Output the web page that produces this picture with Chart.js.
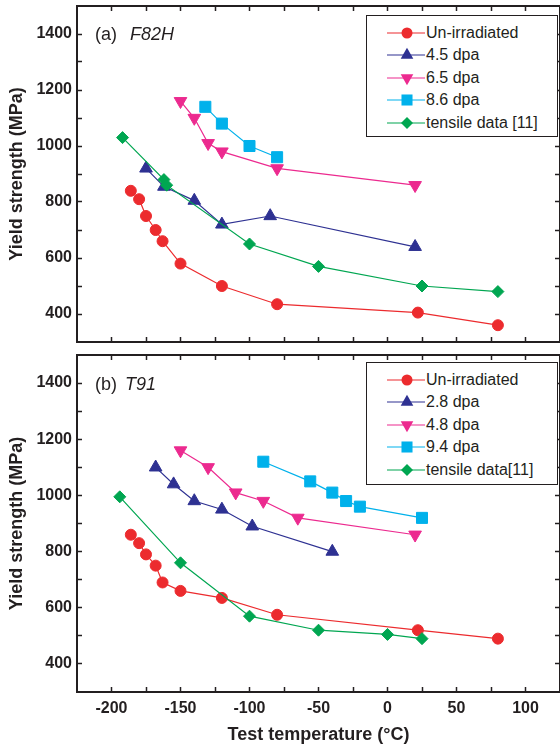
<!DOCTYPE html>
<html>
<head>
<meta charset="utf-8">
<script src="https://cdn.jsdelivr.net/npm/chart.js@4/dist/chart.umd.min.js"></script>
<style>
html,body{margin:0;padding:0;background:#fff;overflow:hidden;width:560px;height:749px;}
#wrap{position:relative;width:560px;height:749px;overflow:hidden;font-family:"Liberation Sans",Arial,sans-serif;color:#231F20;}
canvas{position:absolute;left:0;}
.plabel{position:absolute;font-size:18px;line-height:22px;white-space:nowrap;}
.plabel i{font-style:italic;}
.legend{position:absolute;border:1.5px solid #231F20;background:#fff;box-sizing:border-box;}
.legend .row{position:absolute;left:0;height:22px;width:100%;}
.legend .row svg{position:absolute;left:12px;top:0;}
.legend .row span{position:absolute;left:59px;top:0;line-height:22px;font-size:16px;white-space:nowrap;}
</style>
</head>
<body>
<div id="wrap">
  <canvas id="cA" width="562" height="346" style="top:0px"></canvas>
  <canvas id="cB" width="562" height="403" style="top:346px"></canvas>
  <div class="plabel" style="left:95px;top:23px">(a)<i style="margin-left:13px">F82H</i></div>
  <div class="plabel" style="left:95px;top:373px">(b)<i style="margin-left:8px">T91</i></div>
  <div class="legend" id="legA" style="left:366px;top:15px;width:192px;height:122px"></div>
  <div class="legend" id="legB" style="left:366px;top:362px;width:192px;height:123px"></div>
</div>
<script>
// ---- axis ticks ----
const X_TICK_LABELS = [-200, -150, -100, -50, 0, 50, 100];
const Y_TICK_LABELS = [400, 600, 800, 1000, 1200, 1400];
const X_MIN = -225, X_MAX = 125, Y_MIN = 300, Y_MAX = 1500;
const X_MINOR_STEP = 25, Y_MINOR_STEP = 100;

// ---- (a) F82H ----
const F82H_NAMES = ['Un-irradiated', '4.5 dpa', '6.5 dpa', '8.6 dpa', 'tensile data [11]'];
const F82H_UNIRR_T  = [-186, -180, -175, -168, -163, -150, -120, -80, 22, 80];
const F82H_UNIRR_YS = [840, 810, 750, 700, 660, 580, 500, 435, 405, 360];
const F82H_D45_T  = [-175, -162, -140, -120, -85, 20];
const F82H_D45_YS = [920, 855, 805, 720, 750, 640];
const F82H_D65_T  = [-150, -140, -130, -120, -80, 20];
const F82H_D65_YS = [1160, 1100, 1010, 980, 920, 860];
const F82H_D86_T  = [-132, -120, -100, -80];
const F82H_D86_YS = [1140, 1080, 1000, 960];
const F82H_TENS_T  = [-192, -162, -160, -100, -50, 25, 80];
const F82H_TENS_YS = [1030, 880, 860, 650, 570, 500, 480];

// ---- (b) T91 ----
const T91_NAMES = ['Un-irradiated', '2.8 dpa', '4.8 dpa', '9.4 dpa', 'tensile data[11]'];
const T91_UNIRR_T  = [-186, -180, -175, -168, -163, -150, -120, -80, 22, 80];
const T91_UNIRR_YS = [860, 830, 790, 750, 690, 660, 635, 575, 520, 490];
const T91_D28_T  = [-168, -155, -140, -120, -98, -40];
const T91_D28_YS = [1100, 1040, 980, 950, 890, 800];
const T91_D48_T  = [-150, -130, -110, -90, -65, 20];
const T91_D48_YS = [1160, 1100, 1010, 980, 920, 860];
const T91_D94_T  = [-90, -56, -40, -30, -20, 25];
const T91_D94_YS = [1120, 1050, 1010, 980, 960, 920];
const T91_TENS_T  = [-194, -150, -100, -50, 0, 25];
const T91_TENS_YS = [995, 760, 570, 520, 505, 490];

// ---- styles ----
const COLORS = ['#EC2B2E', '#2E3192', '#EC2A8F', '#00B1EB', '#00A651'];
const STYLES = ['circle', 'triangle', 'triangleDown', 'rect', 'rectRot'];
const RADII  = [5.5, 7.3, 7.3, 7.8, 6];
const TEXT = '#231F20';

function pts(t, ys) { return t.map((v, i) => ({x: v, y: ys[i]})); }

function makeDatasets(names, series) {
  return series.map((s, i) => ({
    label: names[i],
    data: pts(s[0], s[1]),
    showLine: true,
    borderColor: COLORS[i],
    backgroundColor: COLORS[i],
    borderWidth: 1.2,
    pointStyle: STYLES[i] === 'triangleDown' ? 'triangle' : STYLES[i],
    pointRotation: STYLES[i] === 'triangleDown' ? 180 : 0,
    pointRadius: RADII[i],
    pointHoverRadius: RADII[i],
    pointBorderWidth: 1,
    order: i === 4 ? -1 : i
  }));
}

// all tick positions (major labelled + minor) between the first and last labels
function tickRange(labels, step) {
  const out = [];
  for (let v = labels[0]; v <= labels[labels.length - 1]; v += step) out.push({value: v});
  return out;
}
const xTicks = s => { s.ticks = tickRange(X_TICK_LABELS, X_MINOR_STEP); };
const yTicks = s => { s.ticks = tickRange(Y_TICK_LABELS, Y_MINOR_STEP); };

function zeroPad(s) { s.paddingTop = 0; s.paddingBottom = 0; s.paddingLeft = 0; s.paddingRight = 0; }

function makeChart(id, datasets, topH, bottomH, showX) {
  const border = {display: true, color: TEXT, width: 2};
  const grid = {display: true, drawOnChartArea: false, drawTicks: true, tickLength: -5,
                tickColor: TEXT, tickWidth: 1.5};
  const fontTick = {family: '"Liberation Sans", Arial, sans-serif', size: 16, weight: 'bold'};
  const fontTitle = {family: '"Liberation Sans", Arial, sans-serif', size: 18, weight: 'bold'};
  return new Chart(document.getElementById(id), {
    type: 'scatter',
    data: {datasets},
    options: {
      responsive: false,
      devicePixelRatio: 1,
      animation: false,
      layout: {padding: 0, autoPadding: false},
      plugins: {legend: {display: false}, tooltip: {enabled: false}},
      scales: {
        x: {
          type: 'linear', position: 'bottom', min: X_MIN, max: X_MAX,
          grid, border, afterBuildTicks: xTicks,
          ticks: {display: showX, color: TEXT, font: fontTick, padding: 12, maxRotation: 0, autoSkip: false,
                  callback: v => X_TICK_LABELS.indexOf(v) >= 0 ? String(v) : ''},
          title: {display: showX, text: 'Test temperature (°C)', color: TEXT, font: fontTitle, padding: {top: 0, bottom: 3}},
          afterFit: s => { s.height = bottomH; zeroPad(s); }
        },
        x2: {
          type: 'linear', position: 'top', min: X_MIN, max: X_MAX,
          grid, border, afterBuildTicks: xTicks,
          ticks: {display: false},
          afterFit: s => { s.height = topH; zeroPad(s); }
        },
        y: {
          type: 'linear', position: 'left', min: Y_MIN, max: Y_MAX,
          grid, border, afterBuildTicks: yTicks,
          ticks: {color: TEXT, font: fontTick, padding: 10, autoSkip: false,
                  callback: v => Y_TICK_LABELS.indexOf(v) >= 0 ? String(v) : ''},
          title: {display: true, text: 'Yield strength (MPa)', color: TEXT, font: fontTitle, padding: {top: 6, bottom: 0}},
          afterFit: s => { s.width = 77; zeroPad(s); }
        },
        y2: {
          type: 'linear', position: 'right', min: Y_MIN, max: Y_MAX,
          grid, border, afterBuildTicks: yTicks,
          ticks: {display: false},
          afterFit: s => { s.width = 2; zeroPad(s); }
        }
      }
    }
  });
}

makeChart('cA', makeDatasets(F82H_NAMES, [
  [F82H_UNIRR_T, F82H_UNIRR_YS], [F82H_D45_T, F82H_D45_YS], [F82H_D65_T, F82H_D65_YS],
  [F82H_D86_T, F82H_D86_YS], [F82H_TENS_T, F82H_TENS_YS]
]), 6, 4, false);

makeChart('cB', makeDatasets(T91_NAMES, [
  [T91_UNIRR_T, T91_UNIRR_YS], [T91_D28_T, T91_D28_YS], [T91_D48_T, T91_D48_YS],
  [T91_D94_T, T91_D94_YS], [T91_TENS_T, T91_TENS_YS]
]), 9, 57, true);

// ---- legends ----
function markerSvg(i) {
  const c = COLORS[i], cx = 28, cy = 11, r = RADII[i];
  let m = '';
  const st = STYLES[i];
  if (st === 'circle') m = `<circle cx="${cx}" cy="${cy}" r="${r}" fill="${c}"/>`;
  else if (st === 'triangle' || st === 'triangleDown') {
    const s = st === 'triangle' ? 1 : -1;
    const h = Math.sin(Math.PI / 3) * r;
    m = `<polygon fill="${c}" points="${cx},${cy - s * r} ${cx + h},${cy + s * r / 2} ${cx - h},${cy + s * r / 2}"/>`;
  } else if (st === 'rect') {
    const h = Math.SQRT1_2 * r;
    m = `<rect x="${cx - h}" y="${cy - h}" width="${2 * h}" height="${2 * h}" fill="${c}"/>`;
  } else {
    m = `<polygon fill="${c}" points="${cx},${cy - r} ${cx + r},${cy} ${cx},${cy + r} ${cx - r},${cy}"/>`;
  }
  return `<svg width="46" height="22"><line x1="8" y1="${cy}" x2="48" y2="${cy}" stroke="${c}" stroke-width="1.2"/>${m}</svg>`;
}
function buildLegend(id, names) {
  const el = document.getElementById(id);
  names.forEach((n, i) => {
    const row = document.createElement('div');
    row.className = 'row';
    row.style.top = (6 + i * 22.4) + 'px';
    row.innerHTML = markerSvg(i) + '<span></span>';
    row.querySelector('span').textContent = n;
    el.appendChild(row);
  });
}
buildLegend('legA', F82H_NAMES);
buildLegend('legB', T91_NAMES);
</script>
</body>
</html>
